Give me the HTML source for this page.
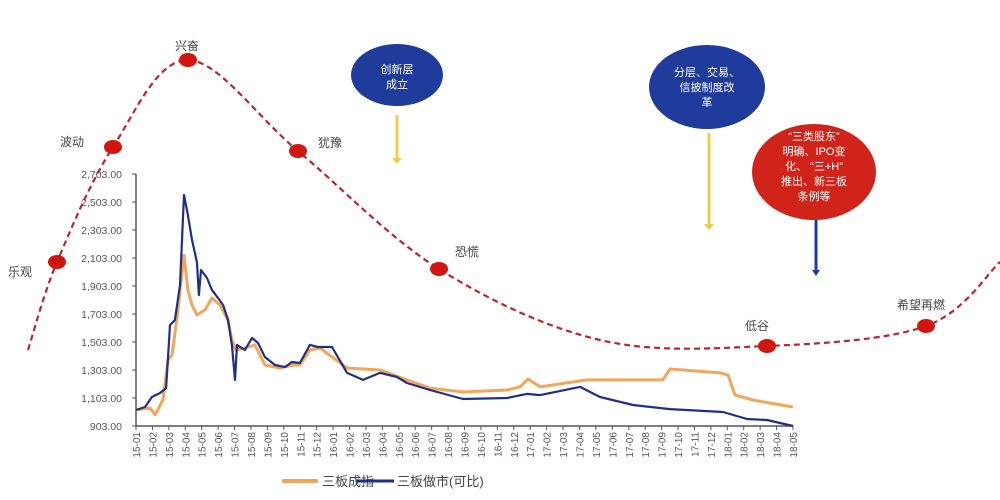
<!DOCTYPE html>
<html><head><meta charset="utf-8">
<style>
html,body{margin:0;padding:0;background:#fff;width:1000px;height:500px;overflow:hidden}
svg{display:block;font-family:"Liberation Sans","Noto Sans CJK SC",sans-serif}
</style></head>
<body>
<svg id="chart" width="1000" height="500" viewBox="0 0 1000 500" xmlns="http://www.w3.org/2000/svg">
<g id="cycle"></g>
<g id="notes">
  <ellipse cx="397" cy="75" rx="46" ry="31" fill="#1f3c9c"/>
  <text x="397" y="73" fill="#fff" font-size="11" text-anchor="middle">创新层</text>
  <text x="397" y="88" fill="#fff" font-size="11" text-anchor="middle">成立</text>
  <line x1="397" y1="115" x2="397" y2="160" stroke="#f0cc4a" stroke-width="3"/>
  <path d="M392,158 L402,158 L397,164 Z" fill="#f0cc4a"/>
  <ellipse cx="707" cy="87" rx="58" ry="42" fill="#1f3c9c"/>
  <text x="707" y="76" fill="#fff" font-size="11" text-anchor="middle">分层、交易、</text>
  <text x="707" y="91" fill="#fff" font-size="11" text-anchor="middle">信披制度改</text>
  <text x="707" y="106" fill="#fff" font-size="11" text-anchor="middle">革</text>
  <line x1="709" y1="133" x2="709" y2="226" stroke="#f0cc4a" stroke-width="3"/>
  <path d="M704,224 L714,224 L709,230 Z" fill="#f0cc4a"/>
  <ellipse cx="814" cy="172" rx="62" ry="48" fill="#d0241b"/>
  <text x="814" y="140" fill="#fff" font-size="11" text-anchor="middle">“三类股东”</text>
  <text x="814" y="155" fill="#fff" font-size="11" text-anchor="middle">明确、IPO变</text>
  <text x="814" y="170" fill="#fff" font-size="11" text-anchor="middle">化、 “三+H”</text>
  <text x="814" y="185" fill="#fff" font-size="11" text-anchor="middle">推出、新三板</text>
  <text x="814" y="200" fill="#fff" font-size="11" text-anchor="middle">条例等</text>
  <line x1="816" y1="220" x2="816" y2="272" stroke="#1f3c9c" stroke-width="3"/>
  <path d="M812,270 L820,270 L816,276 Z" fill="#1f3c9c"/>
</g>
<g id="axes"></g>
<g id="series"></g>
<g>
  <line x1="282" y1="481" x2="318" y2="481" stroke="#f2a65a" stroke-width="4"/>
  <text x="322" y="486" font-size="13" fill="#444">三板成指</text>
  <line x1="356" y1="481" x2="394" y2="481" stroke="#1f2f86" stroke-width="3"/>
  <text x="397" y="486" font-size="13" fill="#444">三板做市(可比)</text>
</g>
</svg>
<script>
const yTicks=[903,1103,1303,1503,1703,1903,2103,2303,2503,2703];
const xLabels=["15-01","15-02","15-03","15-04","15-05","15-06","15-07","15-08","15-09","15-10","15-11","15-12","16-01","16-02","16-03","16-04","16-05","16-06","16-07","16-08","16-09","16-10","16-11","16-12","17-01","17-02","17-03","17-04","17-05","17-06","17-07","17-08","17-09","17-10","17-11","17-12","18-01","18-02","18-03","18-04","18-05"];
const mmMonths=[0,0.55,0.97,1.46,1.83,2.07,2.37,2.68,2.92,3.16,3.41,3.71,3.83,3.96,4.32,4.63,4.99,5.30,5.60,5.84,6.03,6.15,6.63,7.06,7.43,7.85,8.46,9.07,9.49,9.98,10.59,11.08,11.93,12.85,13.82,14.85,15.89,16.5,17.9,19.91,22.59,23.8,24.6,27.03,28.25,30.26,32.51,35.74,37.2,38.42,40];
const mmValues=[1017,1039,1110,1139,1174,1624,1660,1910,2553,2410,2232,2074,1839,2017,1960,1874,1817,1767,1660,1482,1232,1482,1446,1532,1496,1396,1339,1324,1360,1353,1482,1467,1467,1282,1232,1282,1253,1210,1160,1096,1103,1132,1124,1182,1110,1053,1024,1003,953,946,903];
const idxMonths=[0,0.85,1.16,1.64,1.95,2.19,2.56,2.92,3.16,3.41,3.71,4.20,4.63,5.11,5.60,5.84,6.09,6.63,7.24,7.85,8.76,9.55,9.98,10.59,11.2,12.85,14.85,16.5,17.9,19.91,22.59,23.38,23.87,24.6,27.46,32.08,32.51,35.56,36.05,36.47,37.56,40];
const idxValues=[1017,1032,982,1089,1374,1410,1732,2124,1874,1767,1696,1732,1817,1767,1660,1517,1446,1460,1482,1339,1317,1339,1339,1446,1460,1317,1303,1232,1174,1146,1160,1182,1239,1182,1232,1232,1310,1282,1267,1124,1089,1039];
const cycleLabels=["乐观","波动","兴奋","犹豫","恐慌","低谷","希望再燃"];

const NS="http://www.w3.org/2000/svg";
const X0=136,X1=793,Y0=426,Y1=174;
const xs=m=>X0+m*(X1-X0)/(xLabels.length-1);
const ys=v=>Y0-(v-yTicks[0])*(Y0-Y1)/(yTicks[yTicks.length-1]-yTicks[0]);
function mk(tag,attrs,parent,text){const e=document.createElementNS(NS,tag);for(const k in attrs)e.setAttribute(k,attrs[k]);if(text!==undefined)e.textContent=text;parent.appendChild(e);return e;}

const cyc=document.getElementById('cycle');
const cp=[[28,350],[57,262],[113,147],[188,60],[298,151],[439,269],[600,340],[767,346],[926,326],[1000,262]];
let d="M"+cp[0].join(",");
for(let i=0;i<cp.length-1;i++){const p0=cp[Math.max(0,i-1)],p1=cp[i],p2=cp[i+1],p3=cp[Math.min(cp.length-1,i+2)];
d+=` C${p1[0]+(p2[0]-p0[0])/6},${p1[1]+(p2[1]-p0[1])/6} ${p2[0]-(p3[0]-p1[0])/6},${p2[1]-(p3[1]-p1[1])/6} ${p2[0]},${p2[1]}`;}
const cpath=mk('path',{d:d,fill:'none',stroke:'#b8262e','stroke-width':2.2,'stroke-dasharray':'6,4'},cyc);


const dots=[[57,262],[113,147],[188,60],[298,151],[439,269],[767,346],[926,326]];
const lpos=[[8,276],[60,146],[175,50],[318,147],[455,256],[745,330],[897,309]];
dots.forEach((p,i)=>{
  const c=mk('ellipse',{cx:p[0],cy:p[1],rx:9,ry:7,fill:'#d0160f'},cyc);
  
  
  const t=mk('text',{x:lpos[i][0],y:lpos[i][1],'font-size':12,fill:'#444'},cyc,cycleLabels[i]);
  
  
});

const ax=document.getElementById('axes');
const yl=mk('line',{x1:X0,y1:Y1,x2:X0,y2:Y0,stroke:'#555','stroke-width':1.5},ax);


const xl=mk('line',{x1:X0,y1:Y0,x2:X1,y2:Y0,stroke:'#555','stroke-width':1.5},ax);


yTicks.forEach(v=>{
  const t=mk('text',{x:122,y:ys(v)+4,'font-size':10.5,fill:'#555','text-anchor':'end'},ax,v.toLocaleString('en-US',{minimumFractionDigits:2}));
  
  
  mk('line',{x1:X0-4,y1:ys(v),x2:X0,y2:ys(v),stroke:'#555'},ax);
});
xLabels.forEach((s,i)=>{
  const x=xs(i);
  mk('line',{x1:x,y1:Y0,x2:x,y2:Y0+4,stroke:'#555'},ax);
  const t=mk('text',{x:x+4,y:Y0+6,'font-size':10,fill:'#555','text-anchor':'end',transform:`rotate(-90 ${x+4} ${Y0+6})`},ax,s);
  
  
});

const sg=document.getElementById('series');
function line(ms,vs,col,w,name){
  const pts=ms.map((m,i)=>xs(m).toFixed(1)+","+ys(vs[i]).toFixed(1)).join(" ");
  const p=mk('polyline',{points:pts,fill:'none',stroke:col,'stroke-width':w,'stroke-linejoin':'round'},sg);
  
  
}
line(idxMonths,idxValues,'#f2a65a',3,'series-index-line');
line(mmMonths,mmValues,'#1f2f86',2.2,'series-market-making-line');
</script>
</body></html>
